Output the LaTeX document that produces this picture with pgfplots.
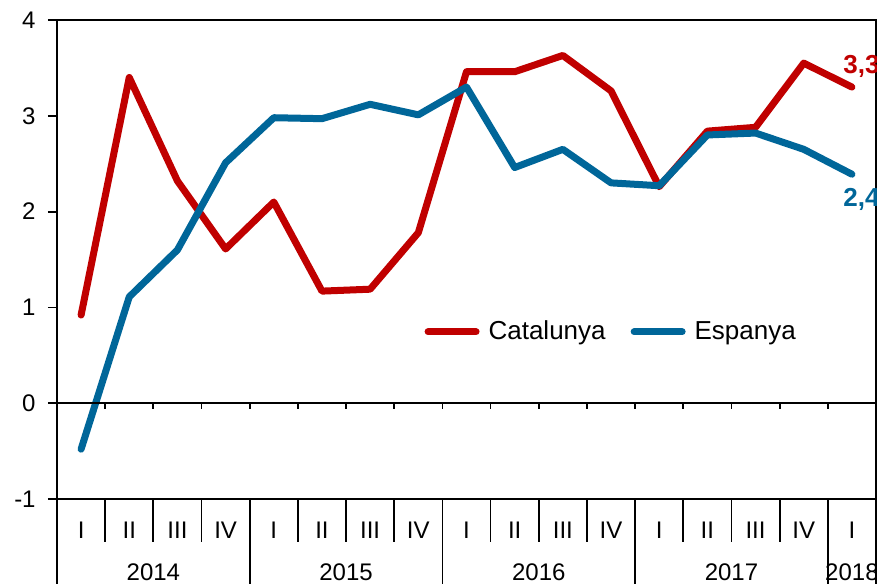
\documentclass[border=0pt]{standalone}
\usepackage{fontspec}
\setmainfont{Liberation Sans}
\usepackage{pgfplots}
\pgfplotsset{compat=1.18}
\definecolor{cred}{RGB}{192,0,0}
\definecolor{cblue}{RGB}{0,102,153}
\begin{document}
\begin{tikzpicture}
\useasboundingbox (-28.5pt,-42pt) rectangle (410pt,249.5pt);
\begin{axis}[
  at={(0pt,0pt)}, anchor=south west,
  scale only axis, width=409.5pt, height=239.5pt,
  xmin=-0.5, xmax=16.5, ymin=-1, ymax=4,
  axis line style={line width=0.9pt},
  ytick={-1,0,1,2,3,4}, yticklabels={{-1},0,1,2,3,4},
  ytick style={line width=0.9pt, black},
  tick align=outside, major tick length=4.5pt,
  ytick pos=left,
  yticklabel style={font=\fontsize{12}{14}\selectfont, anchor=east, inner sep=0pt, xshift=-6pt},
  xtick={0,...,16},
  xticklabels={I,II,III,IV,I,II,III,IV,I,II,III,IV,I,II,III,IV,I},
  xtick style={draw=none},
  xticklabel style={font=\fontsize{12}{14}\selectfont, anchor=base, inner sep=0pt, yshift=-15pt},
  clip=false,
  legend style={at={(0.441,0.349)}, anchor=west, draw=none, fill=none,
    font=\fontsize{13}{15}\selectfont, legend columns=2,
    /tikz/every odd column/.append style={column sep=3pt},
    /tikz/every even column/.append style={column sep=11pt},
    nodes={inner sep=1.5pt}},
  legend image code/.code={\draw[#1] (0pt,0pt) -- (24pt,0pt);},
  every axis plot/.append style={line width=3.5pt, line cap=round, line join=round},
]
\addplot[cred] coordinates {
(0,0.92) (1,3.40) (2,2.32) (3,1.61) (4,2.10) (5,1.17) (6,1.19) (7,1.78)
(8,3.46) (9,3.46) (10,3.63) (11,3.26) (12,2.26) (13,2.84) (14,2.88) (15,3.55) (16,3.30)};
\addlegendentry{Catalunya}
\addplot[cblue] coordinates {
(0,-0.48) (1,1.11) (2,1.60) (3,2.51) (4,2.98) (5,2.97) (6,3.12) (7,3.01)
(8,3.30) (9,2.46) (10,2.65) (11,2.30) (12,2.27) (13,2.80) (14,2.82) (15,2.65) (16,2.39)};
\addlegendentry{Espanya}
% zero line with ticks
\draw[line width=0.9pt] (axis cs:-0.5,0) -- (axis cs:16.5,0);
\pgfplotsinvokeforeach{0.5,1.5,...,15.5}{
  \draw[line width=0.9pt] (axis cs:#1,0) -- ++(0pt,-3pt);
  \draw[line width=0.9pt] (axis cs:#1,-1) -- ++(0pt,-21.3pt);
}
\pgfplotsinvokeforeach{-0.5,3.5,7.5,11.5,15.5,16.5}{
  \draw[line width=0.9pt] (axis cs:#1,-1) -- ++(0pt,-46pt);
}
\node[font=\fontsize{12}{14}\selectfont, anchor=base, inner sep=0pt] at ([yshift=-40.5pt]axis cs:1.5,-1) {2014};
\node[font=\fontsize{12}{14}\selectfont, anchor=base, inner sep=0pt] at ([yshift=-40.5pt]axis cs:5.5,-1) {2015};
\node[font=\fontsize{12}{14}\selectfont, anchor=base, inner sep=0pt] at ([yshift=-40.5pt]axis cs:9.5,-1) {2016};
\node[font=\fontsize{12}{14}\selectfont, anchor=base, inner sep=0pt] at ([yshift=-40.5pt]axis cs:13.5,-1) {2017};
\node[font=\fontsize{12}{14}\selectfont, anchor=base, inner sep=0pt] at ([yshift=-40.5pt]axis cs:16,-1) {2018};
\node[font=\fontsize{13}{15}\selectfont\bfseries, text=cred, anchor=base west, inner sep=0pt] at ([xshift=-4.5pt, yshift=6.6pt]axis cs:16,3.30) {3,3};
\node[font=\fontsize{13}{15}\selectfont\bfseries, text=cblue, anchor=base west, inner sep=0pt] at ([xshift=-4.5pt, yshift=-16pt]axis cs:16,2.39) {2,4};
\end{axis}
\end{tikzpicture}
\end{document}
